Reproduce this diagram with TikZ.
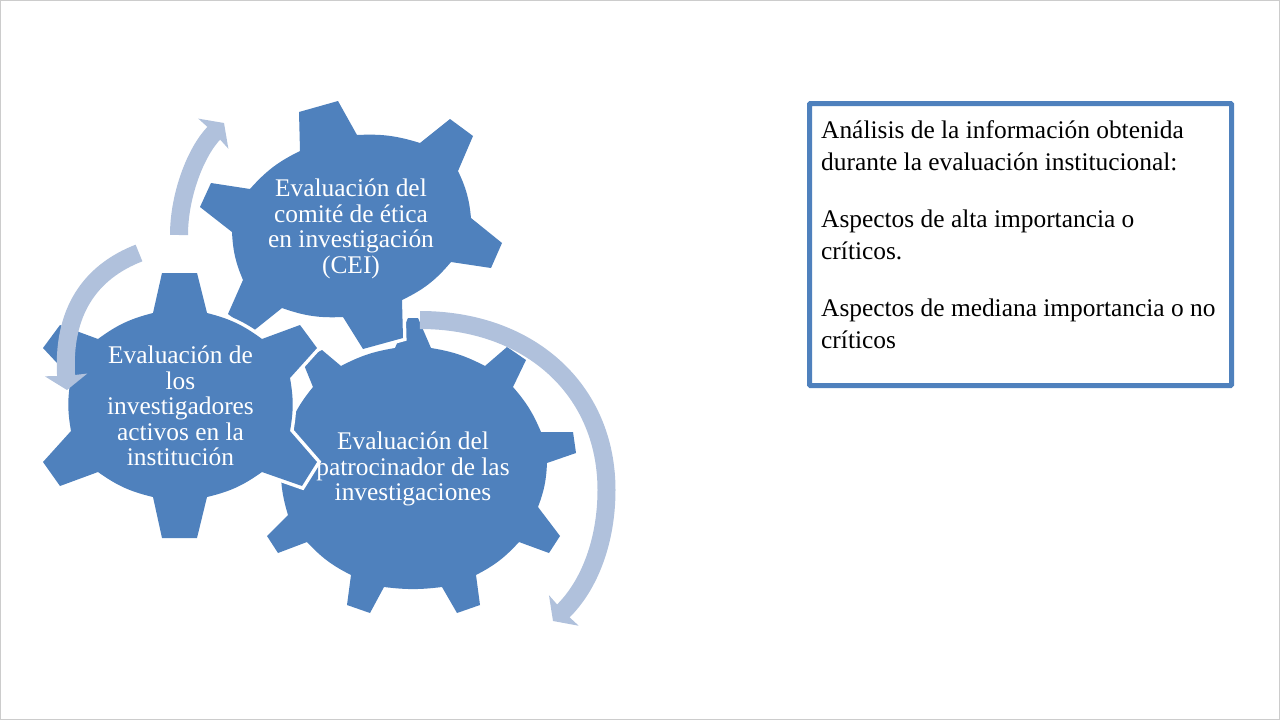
\documentclass[tikz,border=0pt]{standalone}
\usepackage{fontspec}
\setmainfont{Liberation Serif}
\usetikzlibrary{arrows.meta}
\definecolor{gearblue}{HTML}{4F81BD}
\definecolor{flowblue}{HTML}{B0C1DC}

\begin{document}
\begin{tikzpicture}[
          x=1pt,y=-1pt,
          every node/.style={font=\fontsize{25.4}{25.5}\selectfont},
          gear/.style={fill=gearblue,preaction={draw=white,line width=7pt,line join=miter}},
          arc/.style={bend left=#1},
          gearlabel/.style={text=white,align=center,inner sep=0pt},
          flow/.style={draw=flowblue,line width=18pt,-{Stealth[length=15pt,width=42pt,inset=1pt]}},
          notebox/.style={draw=gearblue,line width=5pt,rounded corners=1pt,fill=white,align=left,
            text=black,inner sep=0pt,outer sep=0pt,anchor=north west},
        ]
        \useasboundingbox (0,0) rectangle (1280,720);
        \draw[black!20,line width=1pt] (0.5,0.5) rectangle (1279.5,719.5);

        % lower right gear
        \path[gear] (408,318) -- (418,318) -- (431,348) to[arc=9] (485,366) -- (507,347) -- (526,360)
          -- (513,387) to[arc=9] (541,432) -- (573,432) -- (576,453) -- (547,463) to[arc=9] (538,507)
          -- (560,536) -- (549,553) -- (519,542) to[arc=10] (476,575) -- (480,605) -- (457,613)
          -- (442,587) to[arc=7] (384,587) -- (370,613) -- (347,605) -- (351,575) to[arc=10] (307,542)
          -- (278,553) -- (267,536) -- (288,515) to[arc=9] (281,463) -- (252,453) -- (255,432)
          -- (287,432) to[arc=9] (313,387) -- (302,360) -- (322,350) -- (341,366) to[arc=9] (395,348)
          -- cycle;
        % upper gear
        \path[gear] (299,112) -- (338,101) -- (357,135) to[arc=10] (420,143) -- (450,119) -- (473,136)
          -- (458,171) to[arc=10] (471,218) -- (502,243) -- (491,268) -- (451,262) to[arc=12] (402,300)
          -- (403,338) -- (363,349) -- (343,317) to[arc=11] (282,308) -- (252,332) -- (228,314)
          -- (243,280) to[arc=10] (232,232) -- (200,207) -- (211,183) -- (250,189) to[arc=11] (300,151)
          -- cycle;
        % left gear
        \path[gear] (162,273) -- (197,273) -- (207,313) to[arc=11] (262,339) -- (300,325) -- (317,348)
          -- (290,378) to[arc=10] (290,431) -- (317,462) -- (302,486) -- (262,472) to[arc=11] (207,497)
          -- (197,538) -- (162,538) -- (153,497) to[arc=11] (98,472) -- (60,486) -- (43,462)
          -- (71,431) to[arc=10] (71,378) -- (43,348) -- (60,325) -- (98,339) to[arc=11] (153,313)
          -- cycle;

        \node[gearlabel] (comite) at (351,229) {Evaluación del\\comité de ética\\en investigación\\(CEI)};
        \node[gearlabel] (investigadores) at (180.5,406) {Evaluación de\\los\\investigadores\\activos en la\\institución};
        \node[gearlabel] (patrocinador) at (413,469) {Evaluación del\\patrocinador de las\\investigaciones};

        \coordinate (ta) at (179,235);
        \coordinate (ha) at (224,123);
        \coordinate (tb) at (139,253);
        \coordinate (hb) at (67,390);
        \coordinate (tc) at (420,320);
        \coordinate (mc) at (606.5,490);
        \coordinate (hc) at (553,621);
        \draw[flow] (ta) .. controls (179,195) and (196,151) .. (ha);
        \draw[flow] (tb) .. controls (90,272) and (62,312) .. (hb);
        \draw[flow] (tc) .. controls (530,320) and (606.5,390) .. (mc) .. controls (606.5,540) and (590,585) .. (hc);

        \node[notebox,minimum width=422pt,minimum height=282pt] (analisis) at (809.5,103.5) {};
        \node[inner sep=0pt,align=left,anchor=north west,font=\fontsize{25.4}{32}\selectfont] (notas) at (821,120.5)
          {Análisis de la información obtenida\\durante la evaluación institucional:\\[25pt]
           Aspectos de alta importancia o\\críticos.\\[25pt]
           Aspectos de mediana importancia o no\\críticos};
\end{tikzpicture}
\end{document}
